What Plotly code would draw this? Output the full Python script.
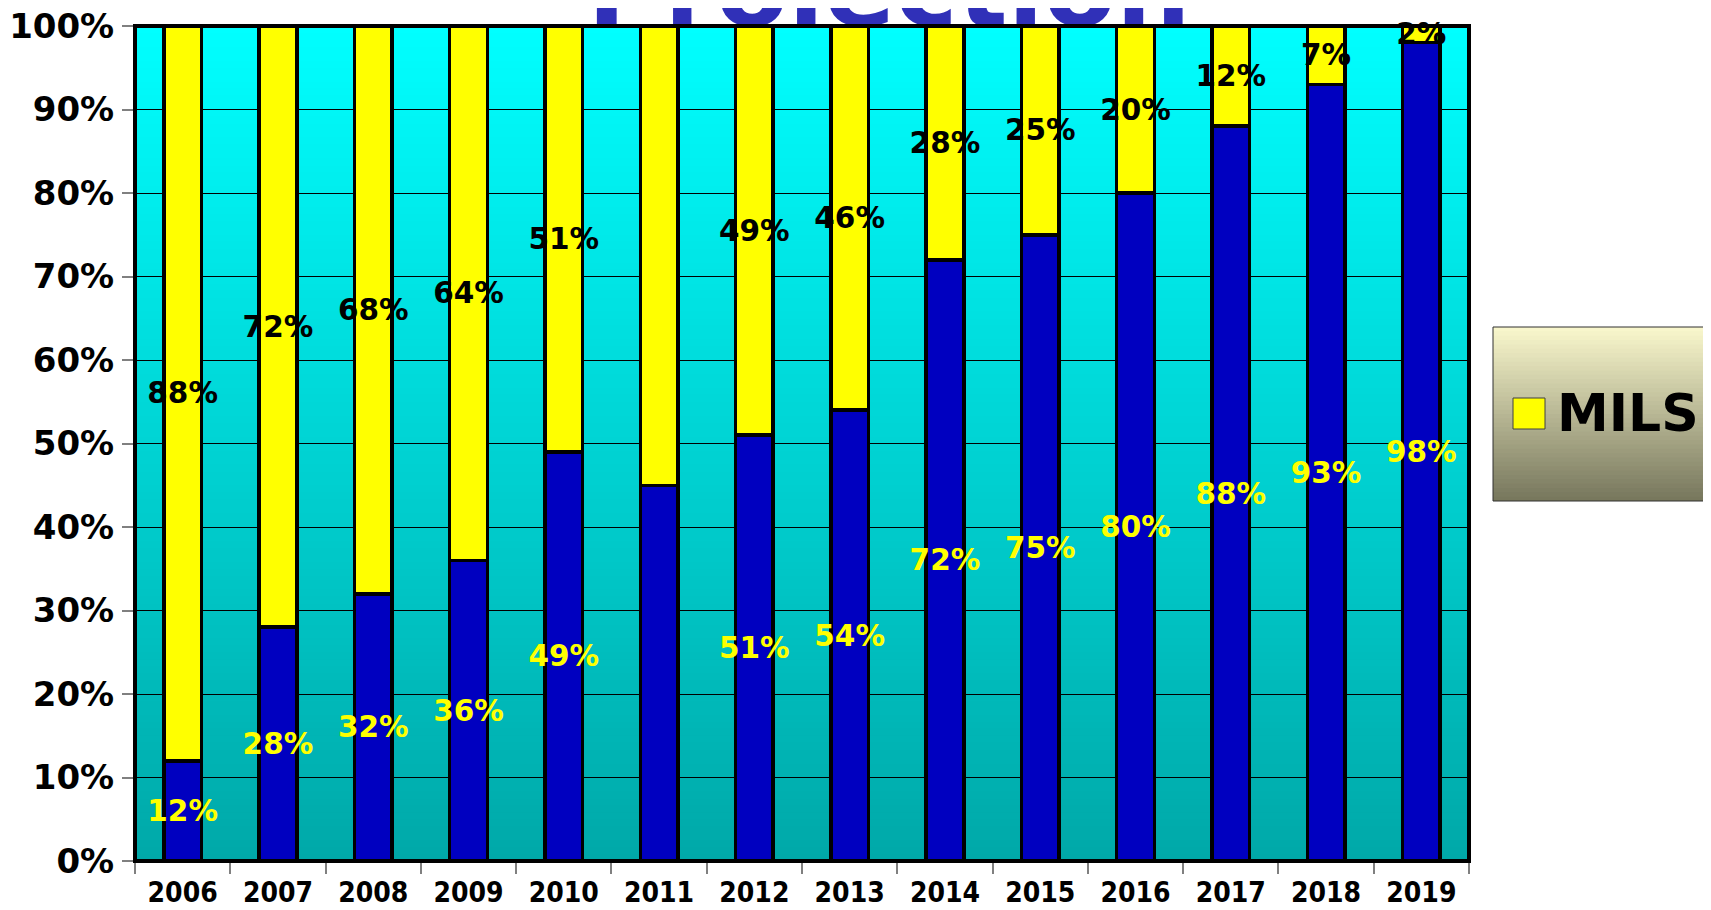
import plotly.graph_objects as go

# ---------------- data ----------------
years = ["2006", "2007", "2008", "2009", "2010", "2011", "2012",
         "2013", "2014", "2015", "2016", "2017", "2018", "2019"]
other_pct = [12, 28, 32, 36, 49, 45, 51, 54, 72, 75, 80, 88, 93, 98]
mils_pct = [88, 72, 68, 64, 51, 55, 49, 46, 28, 25, 20, 12, 7, 2]
other_labels = ["12%", "28%", "32%", "36%", "49%", "", "51%", "54%",
                "72%", "75%", "80%", "88%", "93%", "98%"]
mils_labels = ["88%", "72%", "68%", "64%", "51%", "", "49%", "46%",
               "28%", "25%", "20%", "12%", "7%", "2%"]
y_tick_vals = [0, 10, 20, 30, 40, 50, 60, 70, 80, 90, 100]
y_tick_text = ["0%", "10%", "20%", "30%", "40%", "50%", "60%", "70%",
               "80%", "90%", "100%"]
title_text = "Projection"
other_name = "Other"
mils_name = "MILS"

# ---------------- styling / geometry (figure pixels) ----------------
FONT = "DejaVu Sans"
FONT_COND = "DejaVu Sans Condensed, DejaVu Sans"
W, H = 1711, 910
OFF = 8  # page body margin
ML = 127
MR = W - 1461
MB = H - 853
MT = 0
plot_h = H - MT - MB
plot_w = W - ML - MR
main_top_px = 18
y_dom_top = 1 - main_top_px / plot_h
TITLE_FS = 105


def sx(px):  # screenshot px -> paper x
    return (px - OFF - ML) / plot_w


def sy(py):  # screenshot px -> paper y
    return (H - MB - (py - OFF)) / plot_h


def lerp(c0, c1, t):
    return "rgb(%d,%d,%d)" % tuple(round(a + (b - a) * t) for a, b in zip(c0, c1))


fig = go.Figure()

fig.add_trace(go.Bar(
    x=years, y=other_pct, name=other_name, width=0.395,
    marker=dict(color="#0000c0", line=dict(color="black", width=3.5)),
    text=other_labels, textposition="inside", insidetextanchor="middle",
    textangle=0, constraintext="none", cliponaxis=False,
    textfont=dict(family=FONT, size=29.5, color="#ffff00", weight="bold"),
    showlegend=False,
))
fig.add_trace(go.Bar(
    x=years, y=mils_pct, name=mils_name, width=0.395,
    marker=dict(color="#ffff00", line=dict(color="black", width=3.5)),
    text=mils_labels, textposition="inside", insidetextanchor="middle",
    textangle=0, constraintext="none", cliponaxis=False,
    textfont=dict(family=FONT, size=29.5, color="black", weight="bold"),
    showlegend=False,
))

# title: text in a thin strip above the plot, clipped at the plot top
# 'middle center' puts the baseline 0.25*fontsize below the anchor point
title_y = 1 + (0.25 * TITLE_FS - main_top_px) / main_top_px
fig.add_trace(go.Scatter(
    x=[(889 - OFF - ML) / plot_w], y=[title_y],
    mode="text", text=[title_text], textposition="middle center",
    textfont=dict(family=FONT, size=TITLE_FS, color="#3030b8", weight="bold"),
    xaxis="x2", yaxis="y2", cliponaxis=True, showlegend=False,
    hoverinfo="skip",
))

shapes = []
# background gradient of plot area
N = 120
c_bot, c_top = (0, 168, 168), (0, 255, 255)
for i in range(N):
    shapes.append(dict(
        type="rect", xref="x domain", yref="y domain",
        x0=0, x1=1, y0=i / N, y1=min(1, (i + 1) / N + 0.002),
        fillcolor=lerp(c_bot, c_top, (i + 0.5) / N),
        line=dict(width=0), layer="below",
    ))
# plot frame (centred on the plot edges)
shapes.append(dict(
    type="rect", xref="x domain", yref="y domain", x0=0, x1=1, y0=0, y1=1,
    fillcolor="rgba(0,0,0,0)", line=dict(color="black", width=4),
    layer="above",
))

# legend box gradient
lx0, lx1 = sx(1493), sx(1780)
ly_top, ly_bot = sy(327), sy(501)
M = 40
l_top, l_bot = (250, 248, 205), (118, 118, 92)
for i in range(M):
    y0 = ly_bot + (ly_top - ly_bot) * i / M
    y1 = ly_bot + (ly_top - ly_bot) * (i + 1) / M
    shapes.append(dict(
        type="rect", xref="paper", yref="paper",
        x0=lx0, x1=lx1, y0=y0, y1=min(ly_top, y1 + 0.001),
        fillcolor=lerp(l_bot, l_top, (i + 0.5) / M),
        line=dict(width=0), layer="below",
    ))
shapes.append(dict(
    type="rect", xref="paper", yref="paper",
    x0=lx0, x1=lx1, y0=ly_bot, y1=ly_top,
    fillcolor="rgba(0,0,0,0)", line=dict(color="#303030", width=1),
    layer="below",
))
shapes.append(dict(
    type="rect", xref="paper", yref="paper",
    x0=sx(1513), x1=sx(1545), y0=sy(429), y1=sy(398),
    fillcolor="#ffff00", line=dict(color="#404040", width=1),
    layer="below",
))

annotations = [dict(
    xref="paper", yref="paper", x=sx(1555), y=sy(413),
    xanchor="left", yanchor="middle", text=mils_name, showarrow=False,
    font=dict(family=FONT, size=52, color="black", weight="bold"),
)]

fig.update_layout(
    width=W, height=H,
    margin=dict(l=ML, r=MR, t=MT, b=MB, pad=0, autoexpand=False),
    paper_bgcolor="white", plot_bgcolor="rgba(0,0,0,0)",
    barmode="stack", bargap=0.6,
    showlegend=False,
    shapes=shapes, annotations=annotations,
    uniformtext=dict(minsize=29, mode="show"),
    xaxis=dict(
        type="category", domain=[0, 1], anchor="y", automargin=False,
        showline=False,
        ticks="outside", tickson="boundaries", ticklen=12,
        tickcolor="#808080", tickwidth=1.5, ticklabeloverflow="allow",
        ticklabelstandoff=12,
        tickfont=dict(family=FONT_COND, size=28, color="black", weight="bold"),
        showgrid=False, zeroline=False,
    ),
    yaxis=dict(
        domain=[0, y_dom_top], anchor="x", range=[0, 100], automargin=False,
        tickvals=y_tick_vals, ticktext=y_tick_text, ticklabeloverflow="allow",
        showgrid=True, gridcolor="black", gridwidth=1,
        showline=False, ticklabelstandoff=1,
        ticks="outside", ticklen=12, tickcolor="#808080", tickwidth=1.5,
        tickfont=dict(family=FONT, size=34, color="black", weight="bold"),
        zeroline=False,
    ),
    xaxis2=dict(domain=[0, 1], range=[0, 1], anchor="y2", visible=False,
                fixedrange=True, automargin=False),
    yaxis2=dict(domain=[y_dom_top, 1], range=[0, 1], anchor="x2",
                visible=False, fixedrange=True, automargin=False),
)

fig.write_html("out.html")
